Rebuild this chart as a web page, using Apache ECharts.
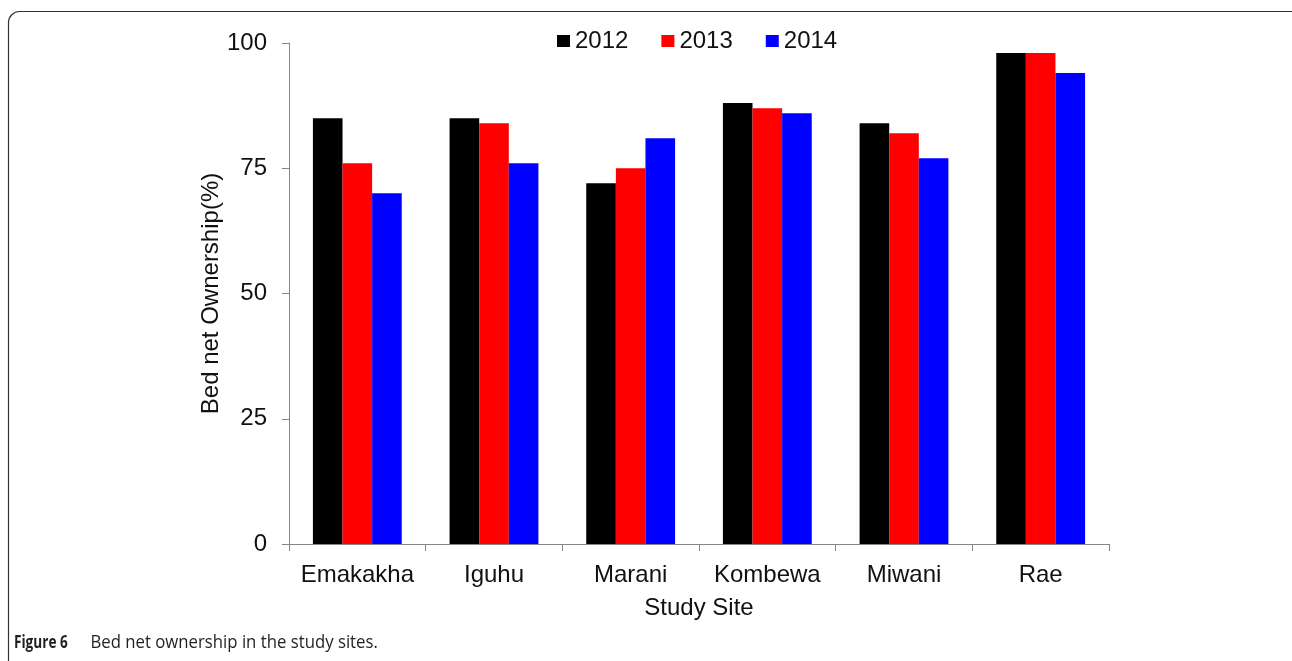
<!DOCTYPE html>
<html>
<head>
<meta charset="utf-8">
<script src="https://cdn.jsdelivr.net/npm/echarts@6/dist/echarts.min.js"></script>
<style>
html,body{margin:0;padding:0;background:#fff;}
#chart{width:1292px;height:661px;}
</style>
</head>
<body>
<div id="chart"></div>
<script>
const categories = ['Emakakha', 'Iguhu', 'Marani', 'Kombewa', 'Miwani', 'Rae'];
const values2012 = [85, 85, 72, 88, 84, 98];
const values2013 = [76, 84, 75, 87, 82, 98];
const values2014 = [70, 76, 81, 86, 77, 94];
const seriesNames = ['2012', '2013', '2014'];
const yTicks = [0, 25, 50, 75, 100];

const FONT = '"Liberation Sans", Arial, sans-serif';
const chart = echarts.init(document.getElementById('chart'));

const option = {
  animation: false,
  backgroundColor: '#ffffff',
  color: ['#000000', '#ff0000', '#0000ff'],
  legend: {
    data: seriesNames,
    left: 557,
    top: 29,
    padding: 0,
    icon: 'rect',
    itemWidth: 13,
    itemHeight: 12,
    itemGap: 33,
    textStyle: { fontFamily: FONT, fontSize: 24, color: '#111' }
  },
  grid: { left: 289, right: 183, top: 43, bottom: 117, containLabel: false },
  xAxis: {
    type: 'category',
    data: categories,
    boundaryGap: true,
    name: 'Study Site',
    nameLocation: 'middle',
    nameGap: 52,
    nameMoveOverlap: false,
    nameTextStyle: { fontFamily: FONT, fontSize: 24, color: '#111' },
    axisLine: { lineStyle: { color: '#868686', width: 1 } },
    axisTick: { show: true, length: 7, alignWithLabel: false, lineStyle: { color: '#868686' } },
    axisLabel: { fontFamily: FONT, fontSize: 24, color: '#111', margin: 19, interval: 0 },
    splitLine: { show: false }
  },
  yAxis: {
    type: 'value',
    min: yTicks[0],
    max: yTicks[yTicks.length - 1],
    interval: 25,
    name: 'Bed net Ownership(%)',
    nameLocation: 'middle',
    nameGap: 66,
    nameMoveOverlap: false,
    nameTextStyle: { fontFamily: FONT, fontSize: 24, color: '#111' },
    axisLine: { show: true, lineStyle: { color: '#868686', width: 1 } },
    axisTick: { show: true, length: 7, lineStyle: { color: '#868686' } },
    axisLabel: { fontFamily: FONT, fontSize: 24, color: '#111', margin: 22 },
    splitLine: { show: false }
  },
  series: [
    { name: seriesNames[0], type: 'bar', data: values2012, barGap: '0%', barCategoryGap: '35%' },
    { name: seriesNames[1], type: 'bar', data: values2013, barGap: '0%', barCategoryGap: '35%' },
    { name: seriesNames[2], type: 'bar', data: values2014, barGap: '0%', barCategoryGap: '35%' }
  ],
  graphic: [
    {
      type: 'rect',
      silent: true,
      shape: { x: 8.5, y: 11.5, width: 1295, height: 720, r: 11 },
      style: { fill: 'none', stroke: '#333', lineWidth: 1.2 }
    },
    {
      type: 'text',
      silent: true,
      x: 14,
      y: 643,
      scaleX: 0.8,
      style: {
        text: 'Figure 6',
        verticalAlign: 'middle',
        fontFamily: '"Open Sans", sans-serif',
        fontSize: 17,
        fontWeight: 'bold',
        fill: '#231f20'
      }
    },
    {
      type: 'text',
      silent: true,
      x: 90.5,
      y: 643,
      scaleX: 0.93,
      style: {
        text: 'Bed net ownership in the study sites.',
        verticalAlign: 'middle',
        fontFamily: '"Open Sans", sans-serif',
        fontSize: 18,
        fill: '#231f20'
      }
    }
  ]
};
chart.setOption(option);
</script>
</body>
</html>
